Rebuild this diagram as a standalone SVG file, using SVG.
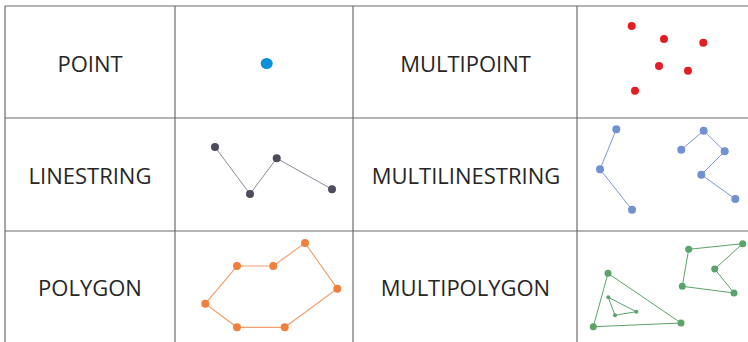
<svg xmlns="http://www.w3.org/2000/svg" width="748" height="342" viewBox="0 0 748 342">
<style>
.grid{stroke:#6b6b6b;stroke-width:1.2;fill:none}
.lbl{font-family:"Open Sans","Liberation Sans",sans-serif;font-size:22px;fill:#262626;text-anchor:middle}
.ls{stroke:#8a8a9c;stroke-width:1;fill:none}
.lsd{fill:#4d4c5f}
.ml{stroke:#7d97d3;stroke-width:1;fill:none}
.mld{fill:#7291d0}
.pg{stroke:#f4a070;stroke-width:1.2;fill:none}
.pgd{fill:#f0803e}
.mp{stroke:#5ba36a;stroke-width:1;fill:none}
.mpd{fill:#5ba36a}
.pt{fill:#0a90d8}
.mpt{fill:#e41d25}
</style>
<rect width="748" height="342" fill="#ffffff"/>
<g id="grid">
<line class="grid" x1="5" y1="6" x2="748" y2="6"/>
<line class="grid" x1="5" y1="118" x2="748" y2="118"/>
<line class="grid" x1="5" y1="231" x2="748" y2="231"/>
<line class="grid" x1="5" y1="6" x2="5" y2="342"/>
<line class="grid" x1="175" y1="6" x2="175" y2="342"/>
<line class="grid" x1="353" y1="6" x2="353" y2="342"/>
<line class="grid" x1="577" y1="6" x2="577" y2="342"/>
</g>
<g id="labels">
<text class="lbl" x="90" y="71.5">POINT</text>
<text class="lbl" x="465.5" y="71.5">MULTIPOINT</text>
<text class="lbl" x="90" y="184">LINESTRING</text>
<text class="lbl" x="466" y="184">MULTILINESTRING</text>
<text class="lbl" x="90" y="296">POLYGON</text>
<text class="lbl" x="465.5" y="296">MULTIPOLYGON</text>
</g>
<g id="point">
<ellipse class="pt" cx="266.7" cy="63.5" rx="6" ry="5.5"/>
</g>
<g id="multipoint">
<circle class="mpt" cx="631.7" cy="26" r="4"/>
<circle class="mpt" cx="664" cy="39" r="4"/>
<circle class="mpt" cx="703.3" cy="42.7" r="4"/>
<circle class="mpt" cx="659" cy="66" r="4"/>
<circle class="mpt" cx="688" cy="70.7" r="4"/>
<circle class="mpt" cx="635" cy="90.7" r="4"/>
</g>
<g id="linestring">
<polyline class="ls" points="215,147 250,194 276.7,158.3 332,189.3"/>
<circle class="lsd" cx="215" cy="147" r="4"/>
<circle class="lsd" cx="250" cy="194" r="4"/>
<circle class="lsd" cx="276.7" cy="158.3" r="4"/>
<circle class="lsd" cx="332" cy="189.3" r="4"/>
</g>
<g id="multilinestring">
<polyline class="ml" points="616.3,129.3 600,169.3 632,209.7"/>
<polyline class="ml" points="681.3,149.7 703.7,130.7 724.7,151.3 701.3,174.7 735.3,199"/>
<circle class="mld" cx="616.3" cy="129.3" r="4"/>
<circle class="mld" cx="600" cy="169.3" r="4"/>
<circle class="mld" cx="632" cy="209.7" r="4"/>
<circle class="mld" cx="681.3" cy="149.7" r="4"/>
<circle class="mld" cx="703.7" cy="130.7" r="4"/>
<circle class="mld" cx="724.7" cy="151.3" r="4"/>
<circle class="mld" cx="701.3" cy="174.7" r="4"/>
<circle class="mld" cx="735.3" cy="199" r="4"/>
</g>
<g id="polygon">
<polygon class="pg" points="305,243 337.3,288.7 284.7,327.3 237,327.3 205.3,303.7 237,266 273.3,266"/>
<circle class="pgd" cx="305" cy="243" r="4"/>
<circle class="pgd" cx="337.3" cy="288.7" r="4"/>
<circle class="pgd" cx="284.7" cy="327.3" r="4"/>
<circle class="pgd" cx="237" cy="327.3" r="4"/>
<circle class="pgd" cx="205.3" cy="303.7" r="4"/>
<circle class="pgd" cx="237" cy="266" r="4"/>
<circle class="pgd" cx="273.3" cy="266" r="4"/>
</g>
<g id="multipolygon">
<polygon class="mp" points="608,273.3 681,323 593.3,326.7"/>
<polygon class="mp" points="608.3,297.3 636.3,311.7 615,315.3"/>
<polygon class="mp" points="688.7,249.3 742.7,243.7 714.7,269 734,293 682.3,286.3"/>
<circle class="mpd" cx="608" cy="273.3" r="3.5"/>
<circle class="mpd" cx="681" cy="323" r="3.5"/>
<circle class="mpd" cx="593.3" cy="326.7" r="3.5"/>
<circle class="mpd" cx="608.3" cy="297.3" r="2"/>
<circle class="mpd" cx="636.3" cy="311.7" r="2"/>
<circle class="mpd" cx="615" cy="315.3" r="2"/>
<circle class="mpd" cx="688.7" cy="249.3" r="3.5"/>
<circle class="mpd" cx="742.7" cy="243.7" r="3.5"/>
<circle class="mpd" cx="714.7" cy="269" r="3.5"/>
<circle class="mpd" cx="734" cy="293" r="3.5"/>
<circle class="mpd" cx="682.3" cy="286.3" r="3.5"/>
</g>
</svg>
